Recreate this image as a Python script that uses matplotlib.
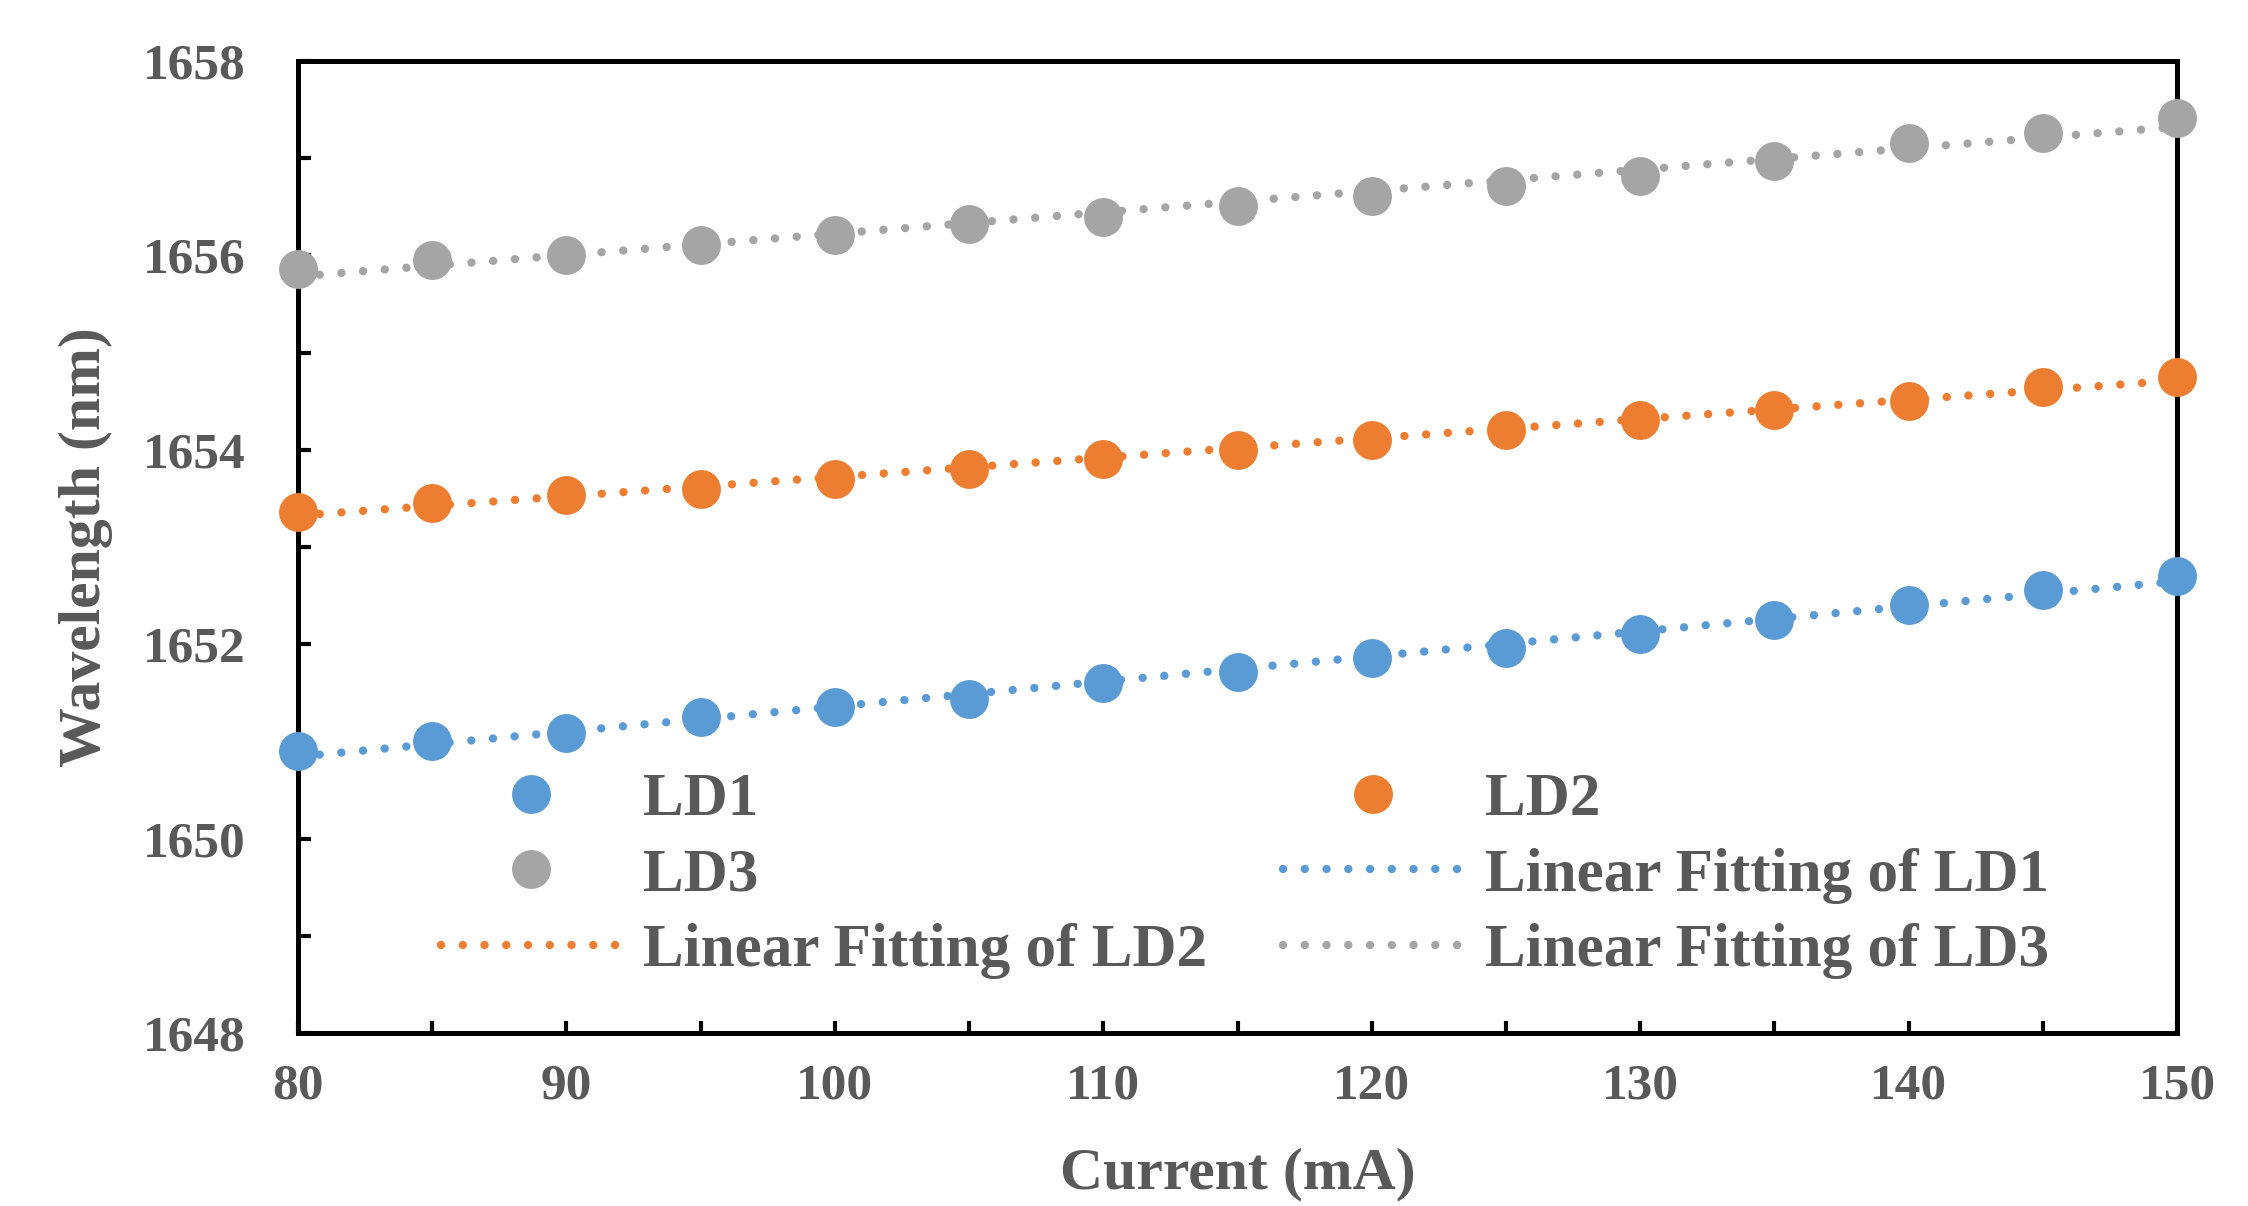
import numpy as np
import matplotlib
matplotlib.use("Agg")
import matplotlib.pyplot as plt

# drive current (mA)
current = [80, 85, 90, 95, 100, 105, 110, 115, 120, 125, 130, 135, 140, 145, 150]

# peak wavelength (nm)
ld1 = [1650.90, 1651.00, 1651.09, 1651.25, 1651.35, 1651.44, 1651.60, 1651.71,
       1651.86, 1651.96, 1652.11, 1652.25, 1652.40, 1652.56, 1652.70]
ld2 = [1653.36, 1653.45, 1653.54, 1653.60, 1653.70, 1653.80, 1653.91, 1654.00,
       1654.10, 1654.20, 1654.31, 1654.41, 1654.50, 1654.65, 1654.75]
ld3 = [1655.86, 1655.95, 1656.00, 1656.11, 1656.21, 1656.32, 1656.40, 1656.51,
       1656.61, 1656.71, 1656.82, 1656.97, 1657.16, 1657.26, 1657.41]

names = ["LD1", "LD2", "LD3"]
colors = ["#5B9BD5", "#ED7D31", "#A5A5A5"]
text_col = "#595959"

plt.rcParams['font.family'] = ['Liberation Serif', 'DejaVu Serif']
plt.rcParams['font.weight'] = 'bold'
plt.rcParams['axes.labelweight'] = 'bold'

fig = plt.figure(figsize=(22.48, 12.06), dpi=100)
ax = fig.add_axes([298/2248, 1-1033/1206, (2177-298)/2248, (1033-61)/1206])

x = np.array(current, dtype=float)
pts = []
fits = []
for y, name, c in zip([ld1, ld2, ld3], names, colors):
    y = np.array(y)
    k, b = np.polyfit(x, y, 1)
    xf = np.array([x.min(), x.max()])
    fl, = ax.plot(xf, k*xf + b, color=c, lw=6, linestyle=(0, (0.01, 2.6)),
                  dash_capstyle='round', zorder=4, label="Linear Fitting of " + name)
    pl, = ax.plot(x, y, 'o', color=c, ms=28, mew=0, linestyle='none',
                  zorder=3, clip_on=False, label=name)
    pts.append(pl)
    fits.append(fl)

ax.set_xlim(80, 150)
ax.set_ylim(1648, 1658)
ax.set_xticks(np.arange(80, 151, 5))
ax.set_xticklabels([str(v) if v % 10 == 0 else "" for v in range(80, 151, 5)])
ax.set_yticks(np.arange(1648, 1659, 1))
ax.set_yticklabels([str(v) if v % 2 == 0 else "" for v in range(1648, 1659)])

for s in ax.spines.values():
    s.set_linewidth(3.6)
    s.set_color('black')
ax.tick_params(axis='both', direction='in', length=9, width=3, labelsize=37,
               labelcolor=text_col)
ax.tick_params(axis='x', pad=22)
ax.tick_params(axis='y', pad=38)
ax.tick_params(top=False, right=False)

ax.set_xlabel("Current (mA)", fontsize=43, color=text_col, va='center',
              fontweight='bold')
ax.xaxis.set_label_coords(0.5, -0.145)
ax.set_ylabel("Wavelength (nm)", fontsize=43, color=text_col, va='center',
              fontweight='bold')
ax.yaxis.set_label_coords(-0.113, 0.5)

handles = [pts[0], pts[2], fits[1], pts[1], fits[0], fits[2]]
leg = ax.legend(handles=handles, labels=[h.get_label() for h in handles],
                ncol=2, loc='center', bbox_to_anchor=(0.504, 0.162),
                frameon=False, fontsize=44, numpoints=1, handlelength=2.95,
                handletextpad=0.35, columnspacing=1.25, labelspacing=0.32,
                borderpad=0)
for t in leg.get_texts():
    t.set_color(text_col)

fig.savefig("out.png", dpi=100)
